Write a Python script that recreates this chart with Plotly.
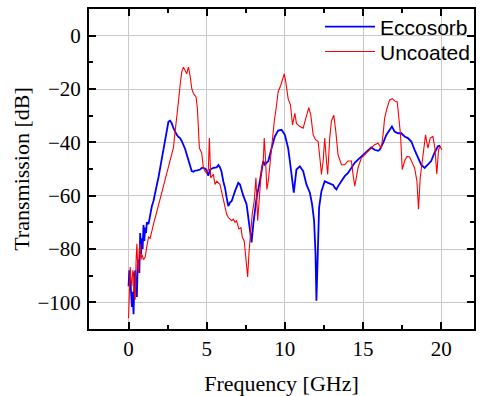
import plotly.graph_objects as go

eccosorb_freq = [0.0, 0.05, 0.106, 0.16, 0.213, 0.27, 0.319, 0.37, 0.426, 0.48, 0.532, 0.585, 0.638, 0.69, 0.745, 0.8, 0.851, 0.9, 0.957, 1.01, 1.064, 1.12, 1.17, 1.277, 1.383, 1.49, 1.596, 1.7, 1.809, 1.92, 2.021, 2.13, 2.234, 2.34, 2.447, 2.553, 2.66, 2.766, 2.872, 2.98, 3.085, 3.2, 3.298, 3.4, 3.511, 3.62, 3.723, 3.83, 3.936, 4.04, 4.15, 4.255, 4.4, 4.574, 4.7, 4.894, 5.0, 5.1, 5.213, 5.426, 5.638, 5.75, 5.85, 5.95, 6.06, 6.17, 6.28, 6.38, 6.49, 6.60, 6.81, 7.02, 7.13, 7.34, 7.55, 7.70, 7.87, 7.98, 8.19, 8.40, 8.62, 8.72, 8.94, 9.15, 9.36, 9.57, 9.79, 10.0, 10.21, 10.32, 10.43, 10.57, 10.74, 10.96, 11.17, 11.38, 11.6, 11.74, 11.87, 11.96, 12.02, 12.09, 12.19, 12.34, 12.55, 12.77, 12.98, 13.09, 13.19, 13.30, 13.40, 13.62, 13.83, 14.04, 14.26, 14.47, 14.68, 14.89, 15.11, 15.32, 15.53, 15.74, 15.96, 16.06, 16.28, 16.49, 16.70, 16.85, 17.02, 17.23, 17.45, 17.66, 17.87, 18.09, 18.30, 18.51, 18.72, 18.94, 19.15, 19.36, 19.57, 19.79, 19.94]
eccosorb_db = [-94, -88, -90.5, -97, -101.7, -96, -104.5, -93, -88, -95, -98, -86, -84, -89, -74, -82, -76, -80, -71, -77, -72, -74, -70, -70.7, -67, -64, -62, -59.5, -56, -53, -49.6, -46, -42.2, -38.5, -34.7, -32.2, -31.9, -32.9, -34.7, -36, -37.2, -38, -38.4, -39.5, -41, -42.5, -44.6, -47, -49, -50.8, -51, -50.6, -50.5, -50.2, -49.5, -49.8, -50.5, -52.5, -50.2, -49.6, -49.4, -48.5, -49.4, -51, -54.6, -57, -60.8, -63.9, -62.6, -62, -58.3, -55.2, -55.8, -60, -63.2, -69.4, -77.5, -70.7, -60.8, -54.6, -47, -48.4, -47, -42.2, -37.8, -35.6, -35.3, -37.2, -42.2, -47, -53.3, -58.9, -50.2, -49, -50.8, -55.8, -58.9, -63.2, -69.4, -81.8, -99.4, -81.8, -64.5, -58.3, -54.6, -55.2, -55.6, -56, -57, -57.7, -56.5, -54.6, -52.7, -51.5, -49.6, -47.7, -46.5, -45.3, -44, -42.8, -41.9, -42.8, -43.2, -42.8, -40.3, -37.2, -35.3, -34.1, -36, -36.6, -36.6, -37.8, -38.4, -39.7, -42.8, -45.9, -48.4, -49.6, -48.4, -47, -44, -41.5, -41.2]

uncoated_freq = [0.0, 0.106, 0.16, 0.213, 0.27, 0.319, 0.37, 0.426, 0.48, 0.532, 0.585, 0.638, 0.69, 0.745, 0.8, 0.851, 0.957, 1.064, 1.17, 1.277, 1.383, 1.489, 1.596, 1.809, 2.021, 2.234, 2.447, 2.66, 2.872, 2.979, 3.085, 3.191, 3.298, 3.404, 3.511, 3.617, 3.723, 3.83, 3.936, 4.043, 4.149, 4.319, 4.404, 4.468, 4.532, 4.681, 4.787, 4.894, 5.0, 5.106, 5.17, 5.255, 5.426, 5.532, 5.638, 5.851, 6.064, 6.17, 6.277, 6.38, 6.60, 6.70, 6.81, 6.91, 7.06, 7.19, 7.28, 7.40, 7.49, 7.62, 7.70, 7.79, 7.91, 8.04, 8.15, 8.26, 8.34, 8.40, 8.51, 8.62, 8.68, 8.77, 8.85, 8.94, 9.04, 9.15, 9.32, 9.47, 9.57, 9.74, 9.89, 9.96, 10.04, 10.21, 10.36, 10.49, 10.64, 10.74, 10.96, 11.17, 11.34, 11.53, 11.66, 11.81, 11.96, 12.13, 12.26, 12.34, 12.45, 12.55, 12.66, 12.74, 12.87, 12.98, 13.09, 13.13, 13.26, 13.40, 13.62, 13.83, 14.04, 14.26, 14.36, 14.47, 14.57, 14.68, 14.89, 15.11, 15.32, 15.53, 15.74, 15.96, 16.17, 16.28, 16.38, 16.53, 16.70, 16.87, 17.09, 17.19, 17.30, 17.40, 17.51, 17.66, 17.81, 17.98, 18.15, 18.30, 18.45, 18.55, 18.66, 18.83, 19.0, 19.15, 19.30, 19.47, 19.60, 19.72, 19.83, 19.94, 20.04]
uncoated_db = [-106, -86.8, -92, -94, -88, -89, -97, -99, -85, -78, -86, -89, -80, -78, -84, -82, -84, -83, -79, -75.6, -76, -73, -70.7, -66, -61, -56.4, -52, -47, -42, -36, -31, -24.8, -18.6, -13.6, -11.8, -13, -14.3, -11.8, -14.9, -19.8, -21.7, -23, -27.3, -34.7, -42.2, -44, -49.6, -50.8, -51.5, -50.2, -38.4, -53.3, -52, -55.8, -54.6, -55.8, -62, -64.5, -67, -68.2, -69.4, -68.8, -70, -69.4, -72.5, -72, -75.6, -77, -81.8, -90.5, -81.8, -74.4, -67, -62, -53.3, -69.4, -63.2, -59.5, -49.6, -47, -38.4, -47, -57.7, -54.6, -48.4, -40.9, -32.2, -26, -21, -18.6, -15.5, -14.3, -16.7, -23.6, -26, -33.5, -29.1, -32.9, -34.1, -34.7, -31, -27, -29.8, -37.2, -39, -39.7, -47, -52, -47, -38.4, -47, -52, -38.4, -32, -30.4, -29.8, -36, -44.6, -48.4, -48.4, -47, -47, -52, -56.4, -53.3, -49.6, -45.9, -44.6, -43.4, -42.2, -40.9, -40.3, -42.2, -37.2, -31, -27.3, -24.2, -23.6, -24.8, -24.8, -31.6, -37.2, -50.2, -47, -45.3, -45.5, -47.7, -49.6, -54.6, -65.1, -53.3, -44.6, -37.2, -42.2, -38.4, -37.8, -42.2, -52, -42.8, -41.5, -42.8]

x_ticks = [0, 5, 10, 15, 20]
y_ticks = [0, -20, -40, -60, -80, -100]

fig = go.Figure()
fig.add_trace(go.Scatter(x=eccosorb_freq, y=eccosorb_db, mode="lines", name="Eccosorb",
                         line=dict(color="#0000ff", width=1.8), legend="legend"))
fig.add_trace(go.Scatter(x=uncoated_freq, y=uncoated_db, mode="lines", name="Uncoated",
                         line=dict(color="#ff0000", width=1.1), legend="legend2"))

serif = "Liberation Serif"
sans = "Liberation Sans"
axis_common = dict(
    showline=True, linecolor="black", linewidth=2, mirror="allticks",
    ticks="inside", ticklen=7, tickwidth=1.5, tickcolor="black",
    showgrid=True, gridcolor="#c8c8c8", gridwidth=1, zeroline=False,
    automargin=False,
    tickfont=dict(family=serif, size=21, color="black"),
)
leg_common = dict(xanchor="left", yanchor="middle", bgcolor="rgba(0,0,0,0)", borderwidth=0,
                  font=dict(family=sans, size=21, color="black"), itemwidth=50)
fig.update_layout(
    width=481, height=396,
    margin=dict(l=89, r=6, t=7, b=67),
    paper_bgcolor="white", plot_bgcolor="white",
    font=dict(family=serif, color="black"),
    showlegend=True,
    legend=dict(x=0.6, y=0.944, **leg_common),
    legend2=dict(x=0.6, y=0.866, **leg_common),
    xaxis=dict(range=[-2.53, 22.1], tickvals=x_ticks,
               minor=dict(dtick=2.5, tick0=0, ticks="inside", ticklen=4, tickcolor="black", showgrid=False),
               title=dict(text="Frequency [GHz]", font=dict(family=serif, size=22, color="black"), standoff=27),
               **axis_common),
    yaxis=dict(range=[-110, 10], tickvals=y_ticks, ticklabelstandoff=2,
               minor=dict(dtick=10, tick0=0, ticks="inside", ticklen=4, tickcolor="black", showgrid=False),
               title=dict(text="Transmission [dB]", font=dict(family=serif, size=22, color="black"), standoff=2),
               **axis_common),
)
fig.write_html("out.html", config={"displayModeBar": False},
               post_script="document.body.style.margin='0';document.body.style.padding='0';")
